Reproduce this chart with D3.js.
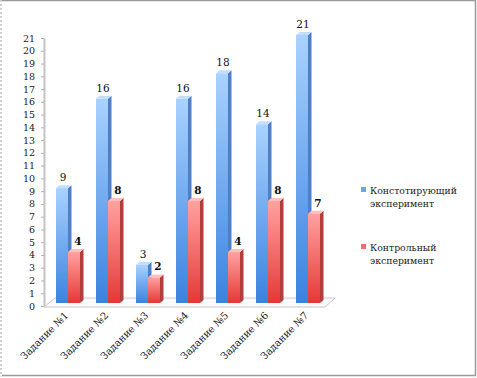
<!DOCTYPE html>
<html>
<head>
<meta charset="utf-8">
<script src="https://cdn.jsdelivr.net/npm/d3@7"></script>
<style>
    body { margin: 0; background: #fff; }
    svg { display: block; font-family: "DejaVu Serif", serif; }
</style>
</head>
<body>
<svg id="chart"></svg>
<script>
// chart data
const tasks = ["Задание №1", "Задание №2", "Задание №3", "Задание №4", "Задание №5", "Задание №6", "Задание №7"];
const seriesNames = ["Констотирующий эксперимент", "Контрольный эксперимент"];
const ascertaining = [9, 16, 3, 16, 18, 14, 21];
const control = [4, 8, 2, 8, 4, 8, 7];
const yTicks = d3.range(0, 22);

const config = {
    width: 477,
    height: 378,
    depthX: 3.5,
    depthY: 3,
    font: "DejaVu Serif, serif"
};

const colors = [
    { light: "#a9d2ff", dark: "#3a82e0", side: "#4f7fc4", cap: "#c3defc", key: "#6aa6ee" },
    { light: "#ffa2a0", dark: "#e43836", side: "#b53c3a", cap: "#ffc0be", key: "#f07070" }
];

const svg = d3.select("#chart")
    .attr("width", config.width)
    .attr("height", config.height);

// frame
svg.append("rect")
    .attr("x", 1).attr("y", 0.5)
    .attr("width", 474.5).attr("height", 375)
    .attr("fill", "none")
    .attr("stroke", "#9a9a9a")
    .attr("stroke-width", 1.5);
svg.append("line")
    .attr("x1", 1).attr("x2", 1).attr("y1", 0).attr("y2", 376)
    .attr("stroke", "#fff").attr("stroke-width", 2);
svg.append("line")
    .attr("x1", 1).attr("x2", 1).attr("y1", 0).attr("y2", 376)
    .attr("stroke", "#a0a0a0").attr("stroke-width", 1)
    .attr("stroke-dasharray", "2,2");

const defs = svg.append("defs");
colors.forEach((c, i) => {
    const g = defs.append("linearGradient")
        .attr("id", "grad" + i)
        .attr("x1", 0).attr("x2", 0).attr("y1", 0).attr("y2", 1);
    g.append("stop").attr("offset", "0%").attr("stop-color", c.light);
    g.append("stop").attr("offset", "45%").attr("stop-color", d3.interpolateRgb(c.light, c.dark)(0.45));
    g.append("stop").attr("offset", "100%").attr("stop-color", c.dark);
});

const x0 = d3.scaleBand().domain(tasks).range([48, 328]).paddingInner(0.4).paddingOuter(0.2);
const x1 = d3.scaleBand().domain([0, 1]).range([0, x0.bandwidth()]);
const y = d3.scaleLinear().domain([0, 21]).range([306, 38]);

// floor
const floorY = y(0);
svg.append("path")
    .attr("d", `M44,${floorY + 1} L55,${floorY - 8} L335,${floorY - 8} L325,${floorY + 1} Z`)
    .attr("fill", "#fafafa")
    .attr("stroke", "#c8c8c8")
    .attr("stroke-width", 1);

// y axis
const yAxis = d3.axisLeft(y).tickValues(yTicks).tickSize(3).tickPadding(6).tickSizeOuter(0);
svg.append("g")
    .attr("class", "y-axis")
    .attr("transform", "translate(44, 0)")
    .call(yAxis)
    .call(g => g.attr("font-family", config.font))
    .call(g => g.select(".domain").attr("stroke", "#c4c4c4").attr("stroke-width", 2))
    .call(g => g.selectAll(".tick line").attr("stroke", "#b0b0b0"))
    .call(g => g.selectAll(".tick text").attr("font-size", 9.5).attr("fill", "#222"));

// bars
const rows = tasks.map((t, i) => ({ task: t, values: [ascertaining[i], control[i]] }));

const groups = svg.selectAll("g.group")
    .data(rows)
    .enter()
    .append("g")
    .attr("class", "group")
    .attr("transform", d => `translate(${x0(d.task)}, 0)`);

const bars = groups.selectAll("g.bar")
    .data(d => d.values.map((v, s) => ({ v, s })))
    .enter()
    .append("g")
    .attr("class", "bar");

const dx = config.depthX, dy = config.depthY;
const base = y(0) - 3;
const barTop = d => y(d.v) - 3;

// side face
bars.append("path")
    .attr("d", d => {
        const xr = x1(d.s) + x1.bandwidth();
        return `M${xr},${barTop(d)} L${xr + dx},${barTop(d) - dy} L${xr + dx},${base - dy} L${xr},${base} Z`;
    })
    .attr("fill", d => colors[d.s].side);

// top face
bars.append("path")
    .attr("d", d => {
        const xl = x1(d.s), xr = xl + x1.bandwidth();
        return `M${xl},${barTop(d)} L${xl + dx},${barTop(d) - dy} L${xr + dx},${barTop(d) - dy} L${xr},${barTop(d)} Z`;
    })
    .attr("fill", d => colors[d.s].cap);

// front face
bars.append("rect")
    .attr("x", d => x1(d.s))
    .attr("y", d => barTop(d))
    .attr("width", x1.bandwidth())
    .attr("height", d => base - barTop(d))
    .attr("fill", d => `url(#grad${d.s})`);

// value labels
bars.append("text")
    .attr("x", d => x1(d.s) + x1.bandwidth() / 2 + (d.s === 1 ? 4 : 1))
    .attr("y", d => barTop(d) - 7)
    .attr("text-anchor", "middle")
    .attr("font-size", 10.5)
    .attr("font-weight", d => d.s === 1 ? "bold" : "normal")
    .attr("fill", "#111")
    .text(d => d.v);

// category labels
svg.append("g")
    .selectAll("text")
    .data(tasks)
    .enter()
    .append("text")
    .attr("transform", d => `translate(${x0(d) + x0.bandwidth() / 2 + 1}, 316) rotate(-45)`)
    .attr("text-anchor", "end")
    .attr("font-size", 10)
    .attr("fill", "#222")
    .text(d => d);

// legend
const legend = svg.append("g")
    .selectAll("g")
    .data(seriesNames)
    .enter()
    .append("g")
    .attr("transform", (d, i) => `translate(361, ${191 + i * 57})`);

legend.append("rect")
    .attr("x", 0).attr("y", -4)
    .attr("width", 5).attr("height", 5)
    .attr("fill", (d, i) => colors[i].key);

legend.append("text")
    .attr("x", 9)
    .attr("y", 3)
    .attr("font-size", 9.3)
    .attr("fill", "#222")
    .selectAll("tspan")
    .data(d => d.split(" "))
    .enter()
    .append("tspan")
    .attr("x", 9)
    .attr("dy", (d, i) => i === 0 ? 0 : 13)
    .text(d => d);
</script>
</body>
</html>
